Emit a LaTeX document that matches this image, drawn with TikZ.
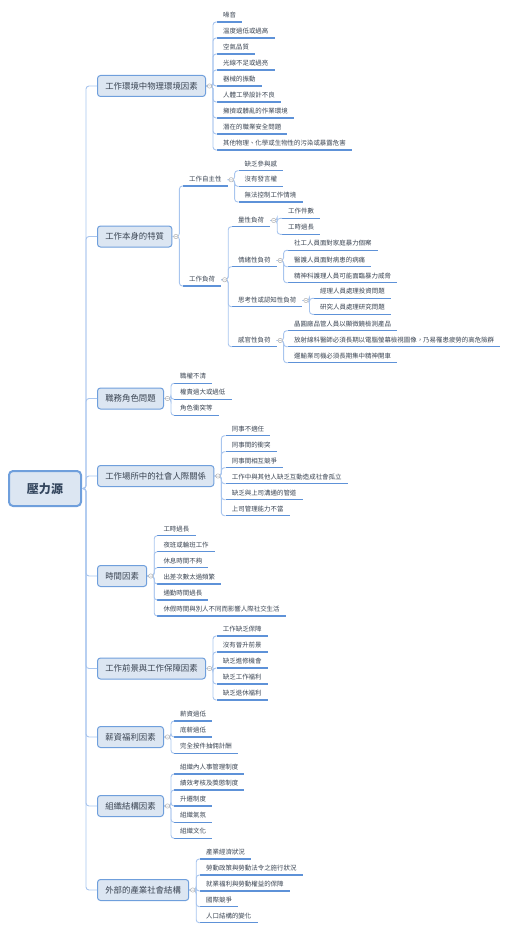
\documentclass[tikz,border=0pt]{standalone}
\usepackage{fontspec}
\setmainfont{Noto Sans CJK TC}
\usepackage{xcolor}
\usepackage{tikz}
\usetikzlibrary{positioning}
\definecolor{boxfill}{HTML}{DCE6F2}
\definecolor{boxline}{HTML}{6F9FDC}
\definecolor{ulcol}{HTML}{5E92D8}
\definecolor{conncol}{HTML}{A8C5EE}
\definecolor{txtcol}{HTML}{3A4452}
\definecolor{roottxt}{HTML}{34465E}

\begin{document}
\begin{tikzpicture}[x=1pt, y=-1pt,
  root/.style={draw=boxline, line width=2pt, rounded corners=4pt, fill=boxfill,
               font=\fontsize{12}{14}\selectfont\bfseries, text=roottxt,
               minimum width=72pt, minimum height=35pt, inner sep=0pt,
               text height=9.6pt, text depth=0pt},
  topic/.style={draw=boxline, line width=1pt, rounded corners=3pt, fill=boxfill,
                font=\fontsize{8.4}{10}\selectfont, text=txtcol, anchor=west,
                minimum height=21pt, inner xsep=7.8pt, inner ysep=0pt,
                text height=6.6pt, text depth=0pt},
  leaf/.style={font=\fontsize{6.45}{8}\selectfont, text=txtcol, anchor=south west,
               inner xsep=6pt, inner ysep=2.8pt, text height=5pt, text depth=1.5pt,
               append after command={(\tikzlastnode.south west) edge[uline] (\tikzlastnode.south east)}},
  uline/.style={draw=ulcol, line width=1.4pt},
  conn/.style={draw=conncol, line width=0.9pt, rounded corners=3pt},
  knob/.style={draw=black!30, fill=white, line width=0.5pt}]
\useasboundingbox (0,0) rectangle (511,931);

\node[root] (src) at (45,488.5) {壓力源};

\node[topic] (env)  at (97,86)    {工作環境中物理環境因素};
\node[topic] (job)  at (97,236.5) {工作本身的特質};
\node[topic] (role) at (97,398.5) {職務角色問題};
\node[topic] (rel)  at (97,476)   {工作場所中的社會人際關係};
\node[topic] (tim)  at (97,576)   {時間因素};
\node[topic] (fut)  at (97,668.5) {工作前景與工作保障因素};
\node[topic] (pay)  at (97,737)   {薪資福利因素};
\node[topic] (org)  at (97,806)   {組織結構因素};
\node[topic] (ext)  at (97,890)   {外部的產業社會結構};

\node[leaf] (env1) at (217,22)  {噪音};
\node[leaf] (env2) at (217,38)  {溫度過低或過高};
\node[leaf] (env3) at (217,54)  {空氣品質};
\node[leaf] (env4) at (217,70)  {光線不足或過亮};
\node[leaf] (env5) at (217,86)  {器械的振動};
\node[leaf] (env6) at (217,102) {人體工學設計不良};
\node[leaf] (env7) at (217,118) {擁擠或髒亂的作業環境};
\node[leaf] (env8) at (217,134) {潛在的職業安全問題};
\node[leaf] (env9) at (217,150) {其他物理、化學或生物性的污染或暴露危害};

\node[leaf] (auto) at (183,186) {工作自主性};
\node[leaf] (load) at (183,286) {工作負荷};
\node[leaf] (auto1) at (238.5,170.7) {缺乏參與感};
\node[leaf] (auto2) at (238.5,186.3) {沒有發言權};
\node[leaf] (auto3) at (238.5,202)   {無法控制工作情境};
\node[leaf] (qty)  at (232,226.7) {量性負荷};
\node[leaf] (emo)  at (232,266.7) {情緒性負荷};
\node[leaf] (cog)  at (232,306.7) {思考性或認知性負荷};
\node[leaf] (sen)  at (232,346.7) {感官性負荷};
\node[leaf] (qty1) at (282,218.3) {工作件數};
\node[leaf] (qty2) at (282,234.3) {工時過長};
\node[leaf] (emo1) at (288,250.3) {社工人員面對家庭暴力個案};
\node[leaf] (emo2) at (288,266.7) {醫護人員面對病患的病痛};
\node[leaf] (emo3) at (288,282.7) {精神科護理人員可能面臨暴力威脅};
\node[leaf] (cog1) at (314,298.3) {經理人員處理投資問題};
\node[leaf] (cog2) at (314,314.3) {研究人員處理研究問題};
\node[leaf] (sen1) at (288,330.7) {晶圓廠品管人員以顯微鏡檢測產品};
\node[leaf] (sen2) at (288,346.7) {放射線科醫師必須長期以電腦螢幕檢視圖像，乃易罹患疲勞的高危險群};
\node[leaf] (sen3) at (288,362.7) {運輸業司機必須長期集中精神開車};

\node[leaf] (role1) at (174,383.3) {職權不清};
\node[leaf] (role2) at (174,399.3) {權責過大或過低};
\node[leaf] (role3) at (174,415.3) {角色衝突等};

\node[leaf] (rel1) at (225.7,435.7) {同事不適任};
\node[leaf] (rel2) at (225.7,451.7) {同事間的衝突};
\node[leaf] (rel3) at (225.7,467.7) {同事間相互競爭};
\node[leaf] (rel4) at (225.7,483.7) {工作中與其他人缺乏互動造成社會孤立};
\node[leaf] (rel5) at (225.7,499.7) {缺乏與上司溝通的管道};
\node[leaf] (rel6) at (225.7,515.7) {上司管理能力不當};

\node[leaf] (tim1) at (157.3,535.7) {工時過長};
\node[leaf] (tim2) at (157.3,551.7) {夜班或輪班工作};
\node[leaf] (tim3) at (157.3,567.7) {休息時間不夠};
\node[leaf] (tim4) at (157.3,584)   {出差次數太過頻繁};
\node[leaf] (tim5) at (157.3,600)   {通勤時間過長};
\node[leaf] (tim6) at (157.3,616)   {休假時間與別人不同而影響人際社交生活};

\node[leaf] (fut1) at (216.7,636) {工作缺乏保障};
\node[leaf] (fut2) at (216.7,652) {沒有晉升前景};
\node[leaf] (fut3) at (216.7,668) {缺乏進修機會};
\node[leaf] (fut4) at (216.7,684) {缺乏工作福利};
\node[leaf] (fut5) at (216.7,700) {缺乏退休福利};

\node[leaf] (pay1) at (174,721)   {薪資過低};
\node[leaf] (pay2) at (174,737)   {底薪過低};
\node[leaf] (pay3) at (174,753.3) {完全按件抽佣計酬};

\node[leaf] (org1) at (174,774)   {組織內人事管理制度};
\node[leaf] (org2) at (174,790)   {績效考核及獎懲制度};
\node[leaf] (org3) at (174,806)   {升遷制度};
\node[leaf] (org4) at (174,822.3) {組織氣氛};
\node[leaf] (org5) at (174,838.3) {組織文化};

\node[leaf] (ext1) at (200,859)   {產業經濟狀況};
\node[leaf] (ext2) at (200,875)   {勞動政策與勞動法令之施行狀況};
\node[leaf] (ext3) at (200,891)   {就業福利與勞動權益的保障};
\node[leaf] (ext4) at (200,906.7) {國際競爭};
\node[leaf] (ext5) at (200,922.7) {人口結構的變化};

\foreach \t in {env,job,role,rel,tim,fut,pay,org,ext}
  \draw[conn] (src.east) -- ++(4,0) |- (\t.west);
\foreach \p/\c in {env/env1,env/env2,env/env3,env/env4,env/env5,env/env6,env/env7,env/env8,env/env9,
                   job/auto,job/load,auto/auto1,auto/auto2,auto/auto3,
                   load/qty,load/emo,load/cog,load/sen,qty/qty1,qty/qty2,
                   emo/emo1,emo/emo2,emo/emo3,cog/cog1,cog/cog2,sen/sen1,sen/sen2,sen/sen3,
                   role/role1,role/role2,role/role3,
                   rel/rel1,rel/rel2,rel/rel3,rel/rel4,rel/rel5,rel/rel6,
                   tim/tim1,tim/tim2,tim/tim3,tim/tim4,tim/tim5,tim/tim6,
                   fut/fut1,fut/fut2,fut/fut3,fut/fut4,fut/fut5,
                   pay/pay1,pay/pay2,pay/pay3,
                   org/org1,org/org2,org/org3,org/org4,org/org5,
                   ext/ext1,ext/ext2,ext/ext3,ext/ext4,ext/ext5}
  \draw[conn] (\p.east) -- ++(7,0) |- (\c.south west);
\foreach \p in {env,job,role,rel,tim,fut,pay,org,ext,auto,load,qty,emo,cog,sen}
  \draw[knob] ([xshift=3.5pt]\p.east) circle (2.2pt)
              ([xshift=2.3pt]\p.east) -- ([xshift=4.7pt]\p.east);
\end{tikzpicture}
\end{document}
